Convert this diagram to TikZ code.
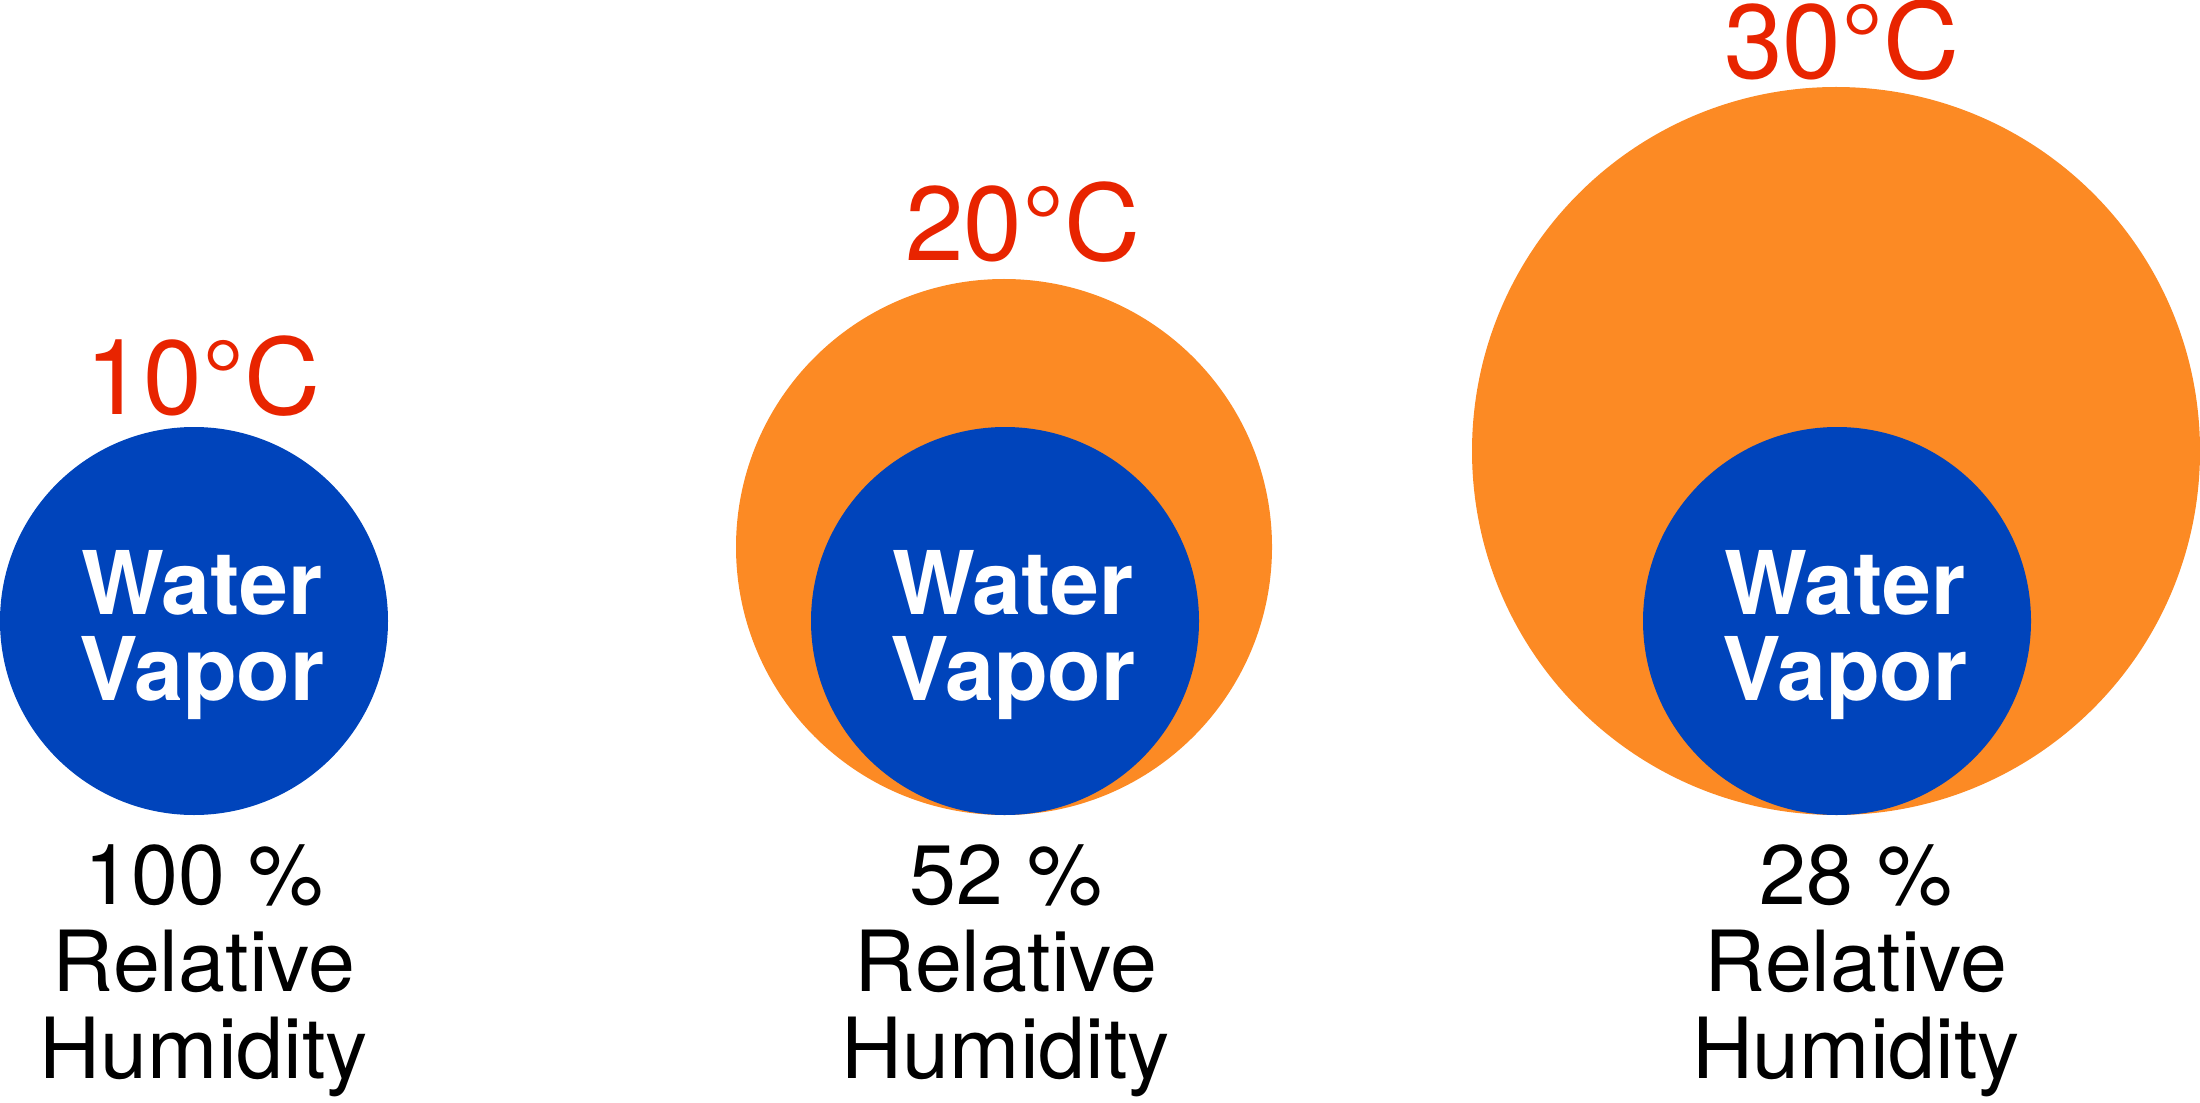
\documentclass[tikz,border=0pt]{standalone}
\usepackage{fontspec}
\setmainfont{TeX Gyre Heros}
\usepackage{tikz}
\definecolor{vaporblue}{RGB}{0,68,187}
\definecolor{airorange}{RGB}{252,138,36}
\definecolor{tempred}{RGB}{232,36,0}
\tikzset{
  vapor/.style={circle,fill=vaporblue,inner sep=0pt,minimum size=3.88cm},
  air/.style={circle,fill=airorange,inner sep=0pt},
  vaptext/.style={anchor=base,align=center,text=white,inner sep=0pt,
    font=\fontsize{25}{24.2}\selectfont\bfseries},
  temp/.style={anchor=base,text=tempred,inner sep=0pt,font=\fontsize{30}{30}\selectfont},
  rh/.style={anchor=base,align=center,inner sep=0pt,font=\fontsize{24}{24.7}\selectfont}
}

\begin{document}
\begin{tikzpicture}
\useasboundingbox (0,0) rectangle (22,11.02);
% warm air holds more
\node[air,minimum size=5.36cm] (a20) at (10.04,5.55) {};
\node[air,minimum size=7.28cm] (a30) at (18.36,6.51) {};
% same amount of vapour in each
\node[vapor] (v10) at (1.94,4.81) {};
\node[vapor] (v20) at (10.05,4.81) {};
\node[vapor] (v30) at (18.37,4.81) {};
\node[vaptext] (w10) at ([xshift=0.08cm,yshift=-0.79cm]v10.center) {Water\\Vapor};
\node[vaptext] (w20) at ([xshift=0.08cm,yshift=-0.79cm]v20.center) {Water\\Vapor};
\node[vaptext] (w30) at ([xshift=0.08cm,yshift=-0.79cm]v30.center) {Water\\Vapor};
% temperatures
\node[temp] (t10) at (2.03,6.88) {10°C};
\node[temp] (t20) at (10.23,8.41) {20°C};
\node[temp] (t30) at (18.42,10.23) {30°C};
% relative humidity
\node[rh] (r10) at (2.04,0.24) {100 \%\\Relative\\Humidity};
\node[rh] (r20) at (10.06,0.24) {52 \%\\Relative\\Humidity};
\node[rh] (r30) at (18.56,0.24) {28 \%\\Relative\\Humidity};
\end{tikzpicture}
\end{document}
